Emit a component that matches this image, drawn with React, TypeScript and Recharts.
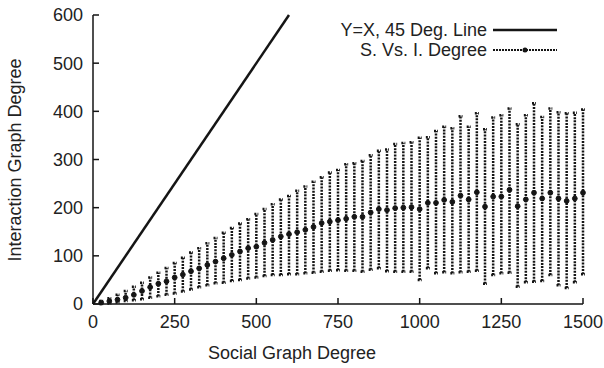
import React from 'react';
import { ComposedChart, Line, XAxis, YAxis, ErrorBar } from 'recharts';

// social graph degree buckets
const socialDegree = [
  25, 50, 75, 100, 125, 150, 175, 200, 225, 250, 275, 300, 325, 350, 375, 400, 425, 450, 475, 500,
  525, 550, 575, 600, 625, 650, 675, 700, 725, 750, 775, 800, 825, 850, 875, 900, 925, 950, 975, 1000,
  1025, 1050, 1075, 1100, 1125, 1150, 1175, 1200, 1225, 1250, 1275, 1300, 1325, 1350, 1375, 1400, 1425, 1450, 1475, 1500,
];
const meanDegree = [
  3, 6, 9, 13, 19, 27, 35, 42, 47, 55, 61, 68, 74, 81, 88, 95, 102, 109, 116, 119,
  127, 133, 140, 145, 149, 154, 160, 168, 171, 174, 177, 181, 181, 190, 197, 195, 199, 200, 201, 197,
  210, 210, 216, 212, 225, 217, 232, 202, 223, 223, 237, 203, 217, 231, 219, 231, 219, 214, 219, 231,
];
const highDegree = [
  6, 12, 19, 27, 36, 44, 55, 65, 75, 85, 96, 107, 116, 126, 137, 148, 158, 167, 176, 187,
  197, 207, 217, 224, 235, 244, 254, 263, 273, 278, 290, 292, 297, 309, 318, 321, 332, 334, 336, 345,
  346, 359, 368, 365, 390, 368, 396, 363, 387, 392, 406, 373, 392, 417, 388, 406, 398, 396, 397, 404,
];
const lowDegree = [
  0, 1, 3, 6, 8, 10, 13, 16, 19, 22, 26, 30, 35, 39, 43, 44, 48, 50, 53, 55,
  58, 60, 60, 62, 62, 64, 65, 67, 69, 70, 69, 69, 67, 71, 74, 68, 67, 67, 67, 50,
  74, 64, 66, 64, 66, 67, 69, 42, 60, 64, 65, 36, 45, 46, 48, 60, 39, 33, 45, 62,
];
const diagX = [0, 600];
const xTicks = [0, 250, 500, 750, 1000, 1250, 1500];
const yTicks = [0, 100, 200, 300, 400, 500, 600];

const FONT = '"Liberation Sans", Arial, Helvetica, sans-serif';
const INK = '#151515';

const rows = socialDegree.map((x, i) => ({
  x,
  mean: meanDegree[i],
  err: [meanDegree[i] - lowDegree[i], highDegree[i] - meanDegree[i]],
}));
const diagData = diagX.map((x) => ({ x, y: x }));

const LegendBox = () => (
  <div
    style={{
      position: 'absolute',
      left: 290,
      top: 20,
      width: 267,
      fontFamily: FONT,
      fontSize: 18,
      color: '#222',
      lineHeight: '20px',
    }}
  >
    <div style={{ display: 'flex', justifyContent: 'flex-end', alignItems: 'center' }}>
      <span>Y=X, 45 Deg. Line</span>
      <svg width={64} height={20} style={{ marginLeft: 6 }}>
        <line x1={0} y1={10} x2={64} y2={10} stroke={INK} strokeWidth={2.5} />
      </svg>
    </div>
    <div style={{ display: 'flex', justifyContent: 'flex-end', alignItems: 'center' }}>
      <span>S. Vs. I. Degree</span>
      <svg width={64} height={20} style={{ marginLeft: 6 }}>
        <line x1={0} y1={10} x2={64} y2={10} stroke={INK} strokeWidth={2} strokeDasharray="2 1" />
        <circle cx={32} cy={10} r={2.5} fill={INK} />
      </svg>
    </div>
  </div>
);

export default function App() {
  const tickStyle = { fontFamily: FONT, fontSize: 18, fill: '#222' };
  return (
    <div style={{ position: 'absolute', left: 0, top: 0, width: 604, height: 368, background: '#fff' }}>
      <ComposedChart width={604} height={368} data={rows} margin={{ top: 15, right: 21, bottom: 0, left: 0 }}>
        <XAxis
          dataKey="x"
          type="number"
          domain={[0, 1500]}
          ticks={xTicks}
          height={64}
          tickSize={-6}
          tickMargin={17}
          stroke={INK}
          strokeWidth={1.5}
          tick={tickStyle}
          label={{
            content: () => (
              <text x={292} y={359} textAnchor="middle" fontFamily={FONT} fontSize={18} fill="#222">
                Social Graph Degree
              </text>
            ),
          }}
        />
        <XAxis
          xAxisId="top"
          orientation="top"
          type="number"
          domain={[0, 1500]}
          ticks={xTicks}
          height={0}
          tickSize={-6}
          tick={false}
          stroke={INK}
          strokeWidth={1.5}
        />
        <YAxis
          type="number"
          domain={[0, 600]}
          ticks={yTicks}
          width={93}
          tickSize={-6}
          tickMargin={16}
          stroke={INK}
          strokeWidth={1.5}
          tick={tickStyle}
          label={{
            content: () => (
              <text
                x={15}
                y={160}
                transform="rotate(-90 15 160)"
                textAnchor="middle"
                dominantBaseline="central"
                fontFamily={FONT}
                fontSize={18}
                fill="#222"
              >
                Interaction Graph Degree
              </text>
            ),
          }}
        />
        <YAxis
          yAxisId="right"
          orientation="right"
          type="number"
          domain={[0, 600]}
          ticks={yTicks}
          width={0}
          tickSize={-6}
          tick={false}
          stroke={INK}
          strokeWidth={1.5}
        />
        <Line
          data={diagData}
          dataKey="y"
          stroke={INK}
          strokeWidth={2.5}
          dot={false}
          isAnimationActive={false}
        />
        <Line
          dataKey="mean"
          stroke="none"
          dot={{ r: 2.4, fill: INK, stroke: INK, strokeWidth: 1 }}
          isAnimationActive={false}
        >
          <ErrorBar
            dataKey="err"
            direction="y"
            width={2}
            stroke={INK}
            strokeWidth={2.5}
            strokeDasharray="2 1.2"
            isAnimationActive={false}
          />
        </Line>
      </ComposedChart>
      <LegendBox />
    </div>
  );
}
